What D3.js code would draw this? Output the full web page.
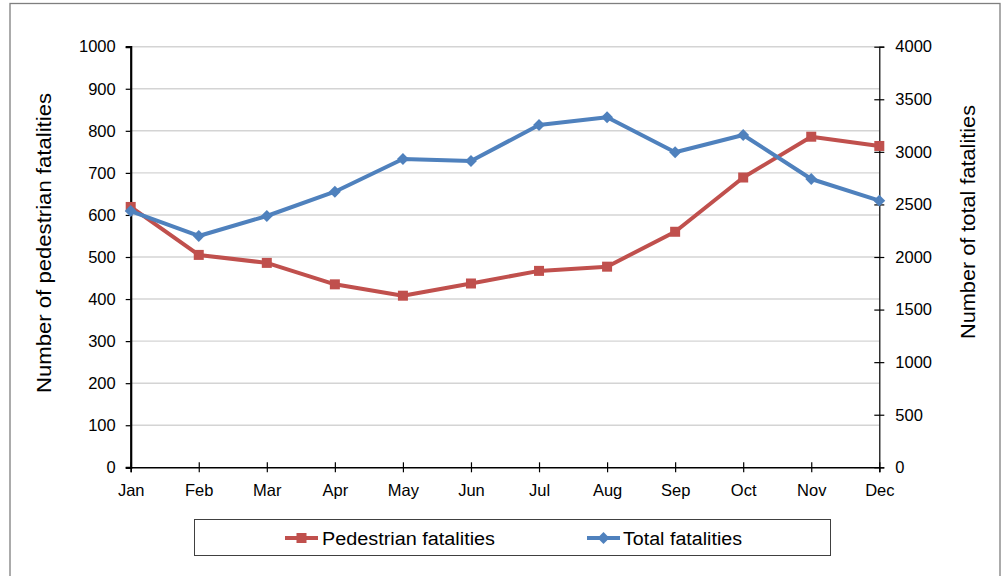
<!DOCTYPE html>
<html>
<head>
<meta charset="utf-8">
<script src="https://cdn.jsdelivr.net/npm/d3@7"></script>
<style>
  html, body { margin: 0; padding: 0; background: #fff; }
  svg { display: block; font-family: "Liberation Sans", Arial, sans-serif; }
</style>
</head>
<body>
<svg id="chart" width="1006" height="576"></svg>
<script>
// Monthly fatalities: pedestrian (left axis) and total (right axis)
const months = ["Jan", "Feb", "Mar", "Apr", "May", "Jun", "Jul", "Aug", "Sep", "Oct", "Nov", "Dec"];
const pedestrian = [619, 505, 486, 435, 408, 437, 467, 477, 560, 689, 786, 764];
const total = [2437, 2200, 2390, 2621, 2932, 2913, 3255, 3329, 2996, 3160, 2742, 2536];
const leftTicks = [0, 100, 200, 300, 400, 500, 600, 700, 800, 900, 1000];
const rightTicks = [0, 500, 1000, 1500, 2000, 2500, 3000, 3500, 4000];

const RED = "#C0504D";
const BLUE = "#4F81BD";

const svg = d3.select("#chart");
const plot = { left: 130.7, right: 879.3, top: 46.7, bottom: 467.3 };

const x = d3.scalePoint().domain(months).range([plot.left, plot.right]);
const yL = d3.scaleLinear().domain([0, 1000]).range([plot.bottom, plot.top]);
const yR = d3.scaleLinear().domain([0, 4000]).range([plot.bottom, plot.top]);

// outer chart frame
svg.append("rect")
  .attr("x", 10).attr("y", 3.5).attr("width", 990).attr("height", 600)
  .attr("fill", "none").attr("stroke", "#7f7f7f").attr("stroke-width", 1.3);

// horizontal gridlines
svg.append("g")
  .selectAll("line").data(leftTicks.filter(d => d > 0)).join("line")
  .attr("x1", plot.left).attr("x2", plot.right)
  .attr("y1", d => yL(d)).attr("y2", d => yL(d))
  .attr("stroke", "#d4d4d4").attr("stroke-width", 1.4);

const fontTick = "16.5px";
const fmt = d3.format("d");

// left axis
const gL = svg.append("g").attr("transform", `translate(${plot.left},0)`)
  .call(d3.axisLeft(yL).tickValues(leftTicks).tickFormat(fmt).tickSize(5).tickPadding(10));
// right axis
const gR = svg.append("g").attr("transform", `translate(${plot.right},0)`)
  .call(d3.axisRight(yR).tickValues(rightTicks).tickFormat(fmt).tickSize(5).tickPadding(11));
// bottom axis
const gB = svg.append("g").attr("transform", `translate(0,${plot.bottom})`)
  .call(d3.axisBottom(x).tickSize(5).tickPadding(12));

[gL, gR, gB].forEach(g => {
  g.select(".domain").attr("stroke", "#000");
  g.selectAll(".tick line").attr("stroke", "#000").attr("stroke-width", 1.2);
  g.selectAll(".tick text").attr("fill", "#000").style("font-size", fontTick)
    .style("font-family", '"Liberation Sans", Arial, sans-serif');
});
gL.select(".domain").attr("stroke-width", 2.2);
gB.select(".domain").attr("stroke-width", 1.5);
gR.select(".domain").attr("stroke-width", 1.2);
// right and bottom ticks cross their axis line
gR.selectAll(".tick line").attr("x1", -5);
gB.selectAll(".tick line").attr("y1", -5);

// axis titles
svg.append("text")
  .attr("transform", "translate(51,243) rotate(-90)")
  .attr("text-anchor", "middle")
  .attr("textLength", 300).attr("lengthAdjust", "spacingAndGlyphs")
  .style("font-size", "20px").attr("fill", "#000")
  .text("Number of pedestrian fatalities");
svg.append("text")
  .attr("transform", "translate(975,222) rotate(-90)")
  .attr("text-anchor", "middle")
  .attr("textLength", 234).attr("lengthAdjust", "spacingAndGlyphs")
  .style("font-size", "20px").attr("fill", "#000")
  .text("Number of total fatalities");

// series lines
const lineL = d3.line().x((d, i) => x(months[i])).y(d => yL(d));
const lineR = d3.line().x((d, i) => x(months[i])).y(d => yR(d));

svg.append("path").datum(pedestrian).attr("d", lineL)
  .attr("fill", "none").attr("stroke", RED).attr("stroke-width", 4)
  .attr("stroke-linejoin", "round");
svg.append("g").selectAll("rect").data(pedestrian).join("rect")
  .attr("x", (d, i) => x(months[i]) - 5).attr("y", d => yL(d) - 5)
  .attr("width", 10).attr("height", 10).attr("fill", RED);

svg.append("path").datum(total).attr("d", lineR)
  .attr("fill", "none").attr("stroke", BLUE).attr("stroke-width", 4)
  .attr("stroke-linejoin", "round");
const diamond = d3.symbol().type(d3.symbolDiamond2).size(90);
svg.append("g").selectAll("path").data(total).join("path")
  .attr("transform", (d, i) => `translate(${x(months[i])},${yR(d)})`)
  .attr("d", diamond).attr("fill", BLUE);

// legend
const leg = svg.append("g");
leg.append("rect")
  .attr("x", 194.5).attr("y", 519.5).attr("width", 636).attr("height", 36)
  .attr("fill", "#fff").attr("stroke", "#404040").attr("stroke-width", 1);

const legItems = [
  { label: "Pedestrian fatalities", color: RED, x0: 285, tx: 322, tl: 173, shape: "square" },
  { label: "Total fatalities", color: BLUE, x0: 587, tx: 623, tl: 119, shape: "diamond" }
];
legItems.forEach(it => {
  leg.append("line")
    .attr("x1", it.x0).attr("x2", it.x0 + 33).attr("y1", 538).attr("y2", 538)
    .attr("stroke", it.color).attr("stroke-width", 4);
  if (it.shape === "square") {
    leg.append("rect").attr("x", it.x0 + 11.5).attr("y", 533).attr("width", 10).attr("height", 10)
      .attr("fill", it.color);
  } else {
    leg.append("path").attr("transform", `translate(${it.x0 + 16.5},538)`)
      .attr("d", diamond).attr("fill", it.color);
  }
  leg.append("text")
    .attr("x", it.tx).attr("y", 545)
    .attr("textLength", it.tl).attr("lengthAdjust", "spacingAndGlyphs")
    .style("font-size", "18px").attr("fill", "#000")
    .text(it.label);
});
</script>
</body>
</html>
